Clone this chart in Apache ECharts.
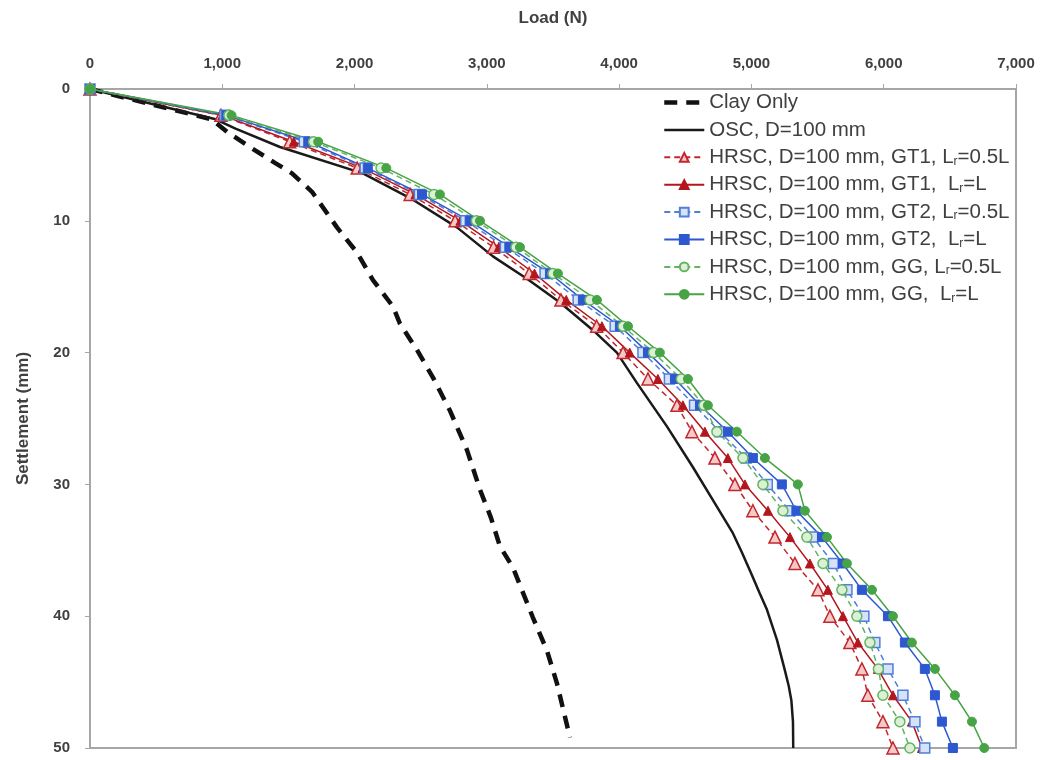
<!DOCTYPE html>
<html>
<head>
<meta charset="utf-8">
<script src="https://cdn.jsdelivr.net/npm/echarts@6/dist/echarts.min.js"></script>
<style>
    html, body { margin: 0; padding: 0; background: #fff; }
    #chart { width: 1046px; height: 760px; }
</style>
</head>
<body>
<div id="chart"></div>
<script>
// Settlement levels (mm) where the HRSC tests were recorded
const settle = [0, 2, 4, 6, 8, 10, 12, 14, 16, 18, 20, 22, 24, 26, 28, 30, 32, 34, 36, 38, 40, 42, 44, 46, 48, 50];

// Loads (N) for each HRSC case at the settlements above
const gt1Half = [0, 990, 1510, 2020, 2420, 2760, 3050, 3320, 3560, 3830, 4030, 4218, 4437, 4550, 4724, 4875, 5011, 5178, 5329, 5503, 5593, 5744, 5835, 5880, 5994, 6070];
const gt1Full = [0, 1000, 1540, 2060, 2460, 2800, 3090, 3360, 3600, 3870, 4080, 4293, 4482, 4648, 4822, 4951, 5125, 5291, 5442, 5578, 5692, 5805, 5956, 6070, 6213, 6289];
const gt2Half = [0, 1020, 1620, 2080, 2490, 2840, 3140, 3440, 3690, 3970, 4180, 4380, 4570, 4760, 4960, 5120, 5290, 5465, 5620, 5722, 5850, 5933, 6032, 6145, 6236, 6310];
const gt2Full = [0, 1030, 1650, 2100, 2510, 2870, 3170, 3477, 3726, 4006, 4218, 4422, 4611, 4822, 5011, 5230, 5340, 5533, 5690, 5835, 6032, 6160, 6311, 6387, 6440, 6523];
const ggHalf = [0, 1050, 1690, 2200, 2600, 2920, 3220, 3500, 3780, 4030, 4260, 4470, 4640, 4739, 4936, 5087, 5238, 5419, 5541, 5684, 5797, 5896, 5960, 5994, 6122, 6198];
const ggFull = [0, 1070, 1725, 2240, 2645, 2948, 3250, 3537, 3832, 4067, 4308, 4520, 4671, 4890, 5102, 5351, 5404, 5571, 5722, 5911, 6070, 6213, 6387, 6538, 6667, 6760];

// Clay only and ordinary stone column curves (no markers)
const clayLoad = [0, 920, 1043, 1224, 1398, 1527, 1678, 1867, 2018, 2139, 2290, 2343, 2472, 2593, 2721, 2850, 2948, 3030, 3099, 3197, 3348, 3454, 3530, 3628];
const claySettle = [0, 2.3, 3.3, 4.5, 5.6, 6.4, 7.8, 10.5, 12.4, 14.5, 16.5, 17.8, 19.8, 21.9, 24.4, 27.4, 30.4, 32.5, 34.7, 36.3, 40.1, 42.6, 45.1, 49.2];
const oscLoad = [0, 950, 1100, 1436, 2063, 2441, 2774, 3046, 3303, 3553, 3802, 3983, 4134, 4361, 4558, 4709, 4860, 4930, 5000, 5060, 5117, 5193, 5250, 5282, 5302, 5314, 5316];
const oscSettle = [0, 2.3, 3.0, 4.4, 6.4, 8.4, 10.5, 12.7, 14.4, 16.2, 18.3, 20, 22.3, 25.6, 28.7, 31.2, 33.7, 35.2, 36.8, 38.2, 39.5, 41.8, 44, 45.3, 46.4, 48, 50];

const names = [
    'Clay Only',
    'OSC, D=100 mm',
    'HRSC, D=100 mm, GT1, Lr=0.5L',
    'HRSC, D=100 mm, GT1,  Lr=L',
    'HRSC, D=100 mm, GT2, Lr=0.5L',
    'HRSC, D=100 mm, GT2,  Lr=L',
    'HRSC, D=100 mm, GG, Lr=0.5L',
    'HRSC, D=100 mm, GG,  Lr=L'
];

const pair = (xs, ys) => xs.map((x, i) => [x, ys[i]]);
const textColor = '#404040';
const axisGray = '#a6a6a6';
const clayLine = { color: '#111', width: 4.5, type: [13, 9] };
const oscLine = { color: '#1a1a1a', width: 2.5 };

function hrsc(name, loads, color, fill, symbol, size, dashed) {
    return {
        name: name,
        type: 'line',
        data: pair(loads, settle),
        symbol: symbol,
        symbolSize: size,
        lineStyle: { color: color, width: 1.5, type: dashed ? [6, 4] : 'solid' },
        itemStyle: dashed
            ? { color: fill, borderColor: color, borderWidth: 1.5 }
            : { color: color, borderColor: color, borderWidth: 1 }
    };
}

const chart = echarts.init(document.getElementById('chart'));

// plain lines (no marker) for the first two legend entries
const legendData = names.map((n, i) => {
    if (i === 0) return { name: n, itemStyle: { opacity: 0 }, lineStyle: clayLine };
    if (i === 1) return { name: n, itemStyle: { opacity: 0 }, lineStyle: oscLine };
    return { name: n };
});

chart.setOption({
    animation: false,
    textStyle: { fontFamily: 'Liberation Sans' },
    grid: {
        left: 90, right: 30, top: 89, bottom: 12,
        show: true, borderColor: axisGray, borderWidth: 2
    },
    legend: {
        orient: 'vertical',
        left: 657, top: 87,
        itemWidth: 40, itemHeight: 11, itemGap: 6.4,
        data: legendData,
        formatter: name => '{t|' + name.replace('Lr=', 'L}{s|r}{t|=') + '}',
        textStyle: {
            color: textColor,
            rich: {
                t: { fontSize: 20.5, lineHeight: 20, color: textColor },
                s: { fontSize: 12, lineHeight: 20, color: textColor, padding: [8, 0, 0, 0] }
            }
        }
    },
    xAxis: {
        type: 'value', position: 'top',
        min: 0, max: 7000, interval: 1000,
        name: 'Load (N)', nameLocation: 'middle', nameGap: 62,
        nameTextStyle: { color: textColor, fontSize: 17, fontWeight: 'bold' },
        axisLine: { show: true, lineStyle: { color: axisGray, width: 2 } },
        axisTick: { show: true, length: 5, lineStyle: { color: axisGray } },
        axisLabel: {
            color: textColor, fontSize: 15, fontWeight: 'bold', margin: 18,
            formatter: v => v.toLocaleString('en-US')
        },
        splitLine: { show: false }
    },
    yAxis: {
        type: 'value', inverse: true,
        min: 0, max: 50, interval: 10,
        name: 'Settlement (mm)', nameLocation: 'middle', nameGap: 58,
        nameTextStyle: { color: textColor, fontSize: 17, fontWeight: 'bold' },
        axisLine: { show: true, lineStyle: { color: axisGray, width: 2 } },
        axisTick: { show: true, length: 5, lineStyle: { color: axisGray } },
        axisLabel: { color: textColor, fontSize: 15, fontWeight: 'bold', margin: 20 },
        splitLine: { show: false }
    },
    series: [
        {
            name: names[0], type: 'line', data: pair(clayLoad, claySettle),
            showSymbol: false, symbol: 'none',
            lineStyle: clayLine,
            itemStyle: { color: '#111' }
        },
        {
            name: names[1], type: 'line', data: pair(oscLoad, oscSettle),
            showSymbol: false, symbol: 'none',
            lineStyle: oscLine,
            itemStyle: { color: '#1a1a1a' }
        },
        hrsc(names[2], gt1Half, '#c1272d', '#f6c9c9', 'triangle', 12, true),
        hrsc(names[3], gt1Full, '#b3161c', null, 'triangle', 9, false),
        hrsc(names[4], gt2Half, '#4f7fd8', '#d6e2f8', 'rect', 10, true),
        hrsc(names[5], gt2Full, '#2d58d0', null, 'rect', 9, false),
        hrsc(names[6], ggHalf, '#62b462', '#dcf0d6', 'circle', 10, true),
        hrsc(names[7], ggFull, '#46a346', null, 'circle', 9, false)
    ]
});

window.addEventListener('resize', () => chart.resize());
</script>
</body>
</html>
